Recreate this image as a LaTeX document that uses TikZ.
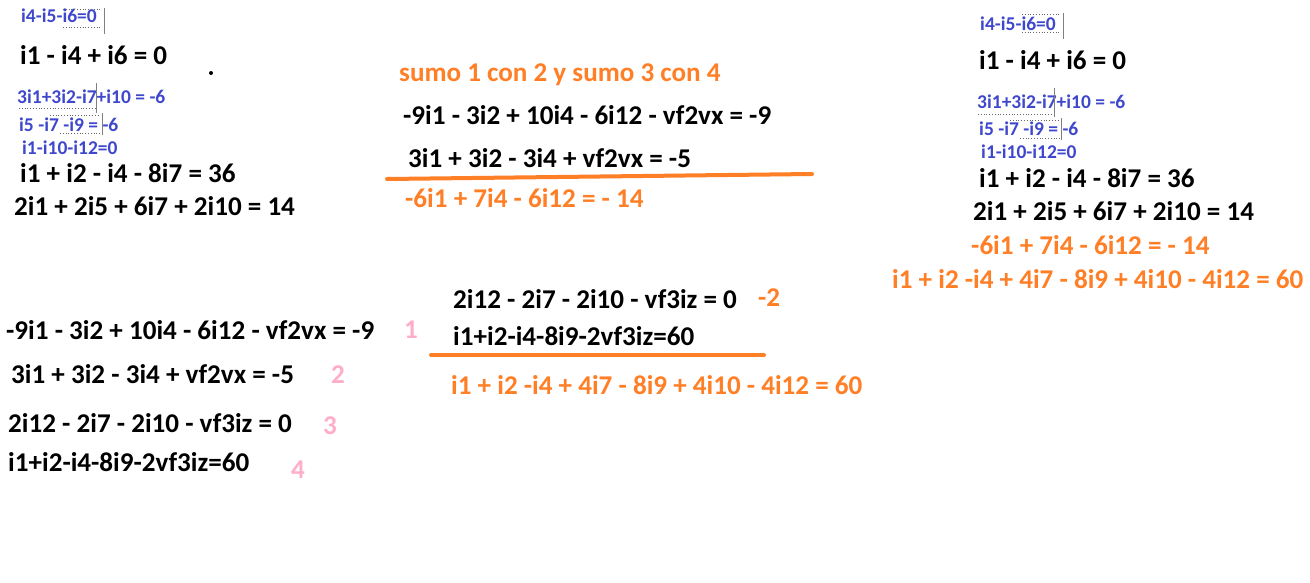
\documentclass[tikz,border=0pt]{standalone}
\usepackage{fontspec}
\setmainfont{Carlito}
\definecolor{paintorange}{RGB}{255,127,39}
\definecolor{paintpink}{RGB}{255,174,201}
\definecolor{paintblue}{RGB}{63,72,204}
\tikzset{
	eq/.style={anchor=base west,inner sep=0pt,font=\fontsize{27.1}{32}\selectfont\bfseries},
	small/.style={anchor=base west,inner sep=0pt,text=paintblue,font=\fontsize{19.5}{23}\selectfont\bfseries},
	res/.style={eq,text=paintorange},
	num/.style={eq,text=paintpink},
	rule/.style={paintorange,line width=4pt,line cap=round},
	cursor/.style={gray,line width=0.8pt},
	sel/.style={black!60,dotted,line width=0.8pt}
}
\begin{document}
\begin{tikzpicture}[x=1pt,y=-1pt]
		\useasboundingbox[fill=white] (0,0) rectangle (1310,582);
		\node[small] (lA) at (21,22) {i4-i5-i6=0};
		\node[eq] (lB) at (20,64) {i1 - i4 + i6 = 0};
		\node[small] (lC) at (17,103) {3i1+3i2-i7+i10 = -6};
		\node[small] (lD) at (19,131) {i5 -i7 -i9 = -6};
		\node[small] (lE) at (22,154) {i1-i10-i12=0};
		\node[eq] (lF) at (20,182) {i1 + i2 - i4 - 8i7 = 36};
		\node[eq] (lG) at (14,215) {2i1 + 2i5 + 6i7 + 2i10 = 14};
		\draw[cursor] (104,8) -- (104,34);
		\draw[cursor] (96,83) -- (96,113);
		\draw[cursor] (102,113) -- (102,135);
		\draw[sel] (63,9) -- (102,9) (63,27) -- (102,27);
		\draw[sel] (19,108) -- (95,108) (50,115) -- (100,115) (60,133) -- (100,133);
		\fill (211,73) circle (2);
		\node[res] (mA) at (399,81) {sumo 1 con 2 y sumo 3 con 4};
		\node[eq] (mB) at (403,124) {-9i1 - 3i2 + 10i4 - 6i12 - vf2vx = -9};
		\node[eq] (mC) at (408,167) {3i1 + 3i2 - 3i4 + vf2vx = -5};
		\coordinate (uA) at (387,179);
		\coordinate (uB) at (812,174);
		\draw[rule] (uA) -- (uB);
		\node[res] (mD) at (405,207) {-6i1 + 7i4 - 6i12 = - 14};
		\node[small] (rA) at (980,30) {i4-i5-i6=0};
		\node[eq] (rB) at (979,69) {i1 - i4 + i6 = 0};
		\node[small] (rC) at (977,108) {3i1+3i2-i7+i10 = -6};
		\node[small] (rD) at (979,135) {i5 -i7 -i9 = -6};
		\node[small] (rE) at (981,158) {i1-i10-i12=0};
		\node[eq] (rF) at (979,187) {i1 + i2 - i4 - 8i7 = 36};
		\node[eq] (rG) at (973,220) {2i1 + 2i5 + 6i7 + 2i10 = 14};
		\node[res] (rH) at (971,254) {-6i1 + 7i4 - 6i12 = - 14};
		\node[res] (rI) at (892,288) {i1 + i2 -i4 + 4i7 - 8i9 + 4i10 - 4i12 = 60};
		\draw[cursor] (1063,13) -- (1063,39);
		\draw[cursor] (1054,88) -- (1054,117);
		\draw[cursor] (1061,118) -- (1061,140);
		\draw[sel] (1022,14) -- (1061,14) (1022,32) -- (1061,32);
		\draw[sel] (978,114) -- (1053,114) (1010,120) -- (1060,120) (1020,138) -- (1060,138);
		\node[eq] (bA) at (6,339) {-9i1 - 3i2 + 10i4 - 6i12 - vf2vx = -9};
		\node[eq] (bB) at (11,383) {3i1 + 3i2 - 3i4 + vf2vx = -5};
		\node[eq] (bC) at (8,432) {2i12 - 2i7 - 2i10 - vf3iz = 0};
		\node[eq] (bD) at (8,471) {i1+i2-i4-8i9-2vf3iz=60};
		\foreach \n/\x/\y in {1/404/338, 2/331/383, 3/323/434, 4/291/478}
			\node[num] (n\n) at (\x,\y) {\n};
		\node[eq] (cA) at (453,308) {2i12 - 2i7 - 2i10 - vf3iz = 0};
		\node[res] (cB) at (758,306) {-2};
		\node[eq] (cC) at (453,345) {i1+i2-i4-8i9-2vf3iz=60};
		\coordinate (vA) at (431,355);
		\coordinate (vB) at (764,355);
		\draw[rule] (vA) -- (vB);
		\node[res] (cD) at (451,394) {i1 + i2 -i4 + 4i7 - 8i9 + 4i10 - 4i12 = 60};
	\end{tikzpicture}
\end{document}
